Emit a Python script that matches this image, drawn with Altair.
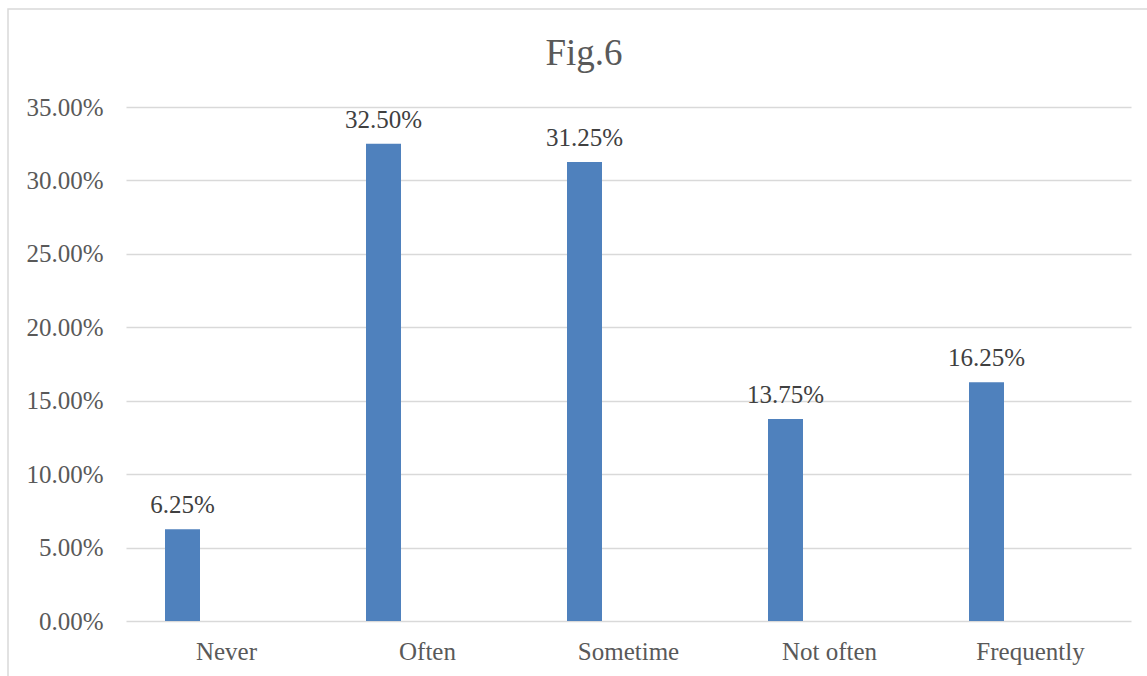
import altair as alt
import pandas as pd

categories = ["Never", "Often", "Sometime", "Not often", "Frequently"]
values = [0.0625, 0.3250, 0.3125, 0.1375, 0.1625]
y_ticks = [0.0, 0.05, 0.10, 0.15, 0.20, 0.25, 0.30, 0.35]
title_text = ["Fig.6"]

df = pd.DataFrame({"category": categories, "value": values})

FONT = "Liberation Serif"
GRAY = "#595959"
BAR_OFFSET = -44
FS = 25

x_enc = alt.X("category:N", sort=categories, title=None,
              scale=alt.Scale(paddingInner=0, paddingOuter=0),
              axis=alt.Axis(labelAngle=0, labelFont=FONT, labelFontSize=FS,
                            labelColor=GRAY, labelPadding=18, ticks=False,
                            domain=False, grid=False))
y_enc = alt.Y("value:Q", title=None,
              scale=alt.Scale(domain=[0, 0.35], nice=False),
              axis=alt.Axis(values=y_ticks, format=".2%", labelFont=FONT,
                            labelFontSize=FS, labelColor=GRAY, labelPadding=23,
                            ticks=False, domain=False, gridColor="#d9d9d9",
                            gridWidth=1.5))

frame = alt.Chart(pd.DataFrame({"a": [0]})).mark_rect(
    fill="transparent", stroke="#d9d9d9", strokeWidth=1.5
).encode(
    x=alt.value(-118), x2=alt.value(1030),
    y=alt.value(-98), y2=alt.value(600)
)

title = alt.Chart(pd.DataFrame({"t": title_text})).mark_text(
    font=FONT, fontSize=37, color=GRAY, baseline="alphabetic", align="center"
).encode(
    x=alt.value(458), y=alt.value(-42), text="t:N"
)

bars = alt.Chart(df).mark_bar(width=35, xOffset=BAR_OFFSET, color="#4f81bd").encode(
    x=x_enc, y=y_enc
)

labels = alt.Chart(df).mark_text(
    font=FONT, fontSize=FS, color="#404040", baseline="alphabetic",
    dx=BAR_OFFSET, dy=-16
).encode(
    x=alt.X("category:N", sort=categories),
    y="value:Q",
    text=alt.Text("value:Q", format=".2%")
)

chart = alt.layer(frame, bars, labels, title).properties(
    width=1005, height=514,
    background="white",
    autosize=alt.AutoSizeParams(type="none"),
    padding={"left": 126, "top": 107, "right": 16, "bottom": 55}
).configure_view(stroke="transparent", strokeWidth=0)

chart.save("out.html", embed_options={"renderer": "svg", "actions": False})
